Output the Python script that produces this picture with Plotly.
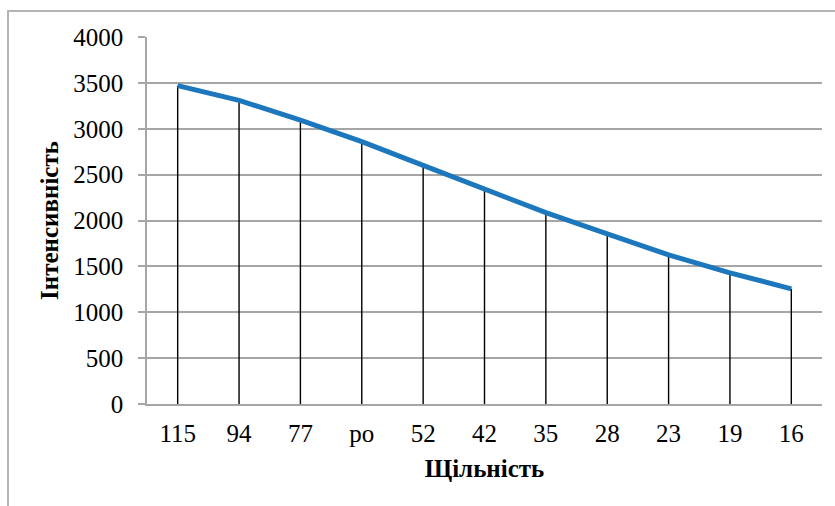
import plotly.graph_objects as go

# Density categories (x) and measured intensity (y)
density = ["115", "94", "77", "ро", "52", "42", "35", "28", "23", "19", "16"]
intensity = [3470, 3310, 3095, 2860, 2600, 2340, 2085, 1855, 1625, 1430, 1255]
y_ticks = [0, 500, 1000, 1500, 2000, 2500, 3000, 3500, 4000]

FONT = "Liberation Serif"
GRID = "#a6a6a6"

fig = go.Figure()

# Vertical drop lines from each point down to the axis
fig.add_trace(go.Scatter(
    x=density, y=intensity, mode="markers",
    marker=dict(size=1, color="rgba(0,0,0,0)"),
    error_y=dict(type="data", symmetric=False,
                 array=[0] * len(intensity), arrayminus=intensity,
                 color="black", thickness=1.4, width=0),
    hoverinfo="skip", showlegend=False,
))

# Main intensity curve
fig.add_trace(go.Scatter(
    x=density, y=intensity, mode="lines",
    line=dict(color="#1c77bd", width=5),
    showlegend=False,
))

fig.update_layout(
    width=835, height=506,
    margin=dict(l=147, r=13, t=37, b=102),
    paper_bgcolor="white", plot_bgcolor="white",
    font=dict(family=FONT, size=25, color="black"),
    xaxis=dict(
        type="category", range=[-0.5, 10.5],
        showgrid=False, zeroline=False,
        showline=True, linecolor=GRID, linewidth=1.5,
        ticks="", ticklabelstandoff=6,
        tickfont=dict(family=FONT, size=25),
        title=dict(text="<b>Щільність</b>", standoff=14,
                   font=dict(family=FONT, size=25)),
        automargin=False,
    ),
    yaxis=dict(
        range=[0, 4000], tickvals=y_ticks,
        showgrid=True, gridcolor=GRID, gridwidth=1.5,
        zeroline=False,
        showline=True, linecolor=GRID, linewidth=1.5,
        ticks="outside", ticklen=7, tickcolor=GRID, tickwidth=1.5,
        ticklabelstandoff=10,
        tickfont=dict(family=FONT, size=25),
        title=dict(text="<b>Інтенсивність</b>", standoff=8,
                   font=dict(family=FONT, size=25)),
        automargin=False,
    ),
    shapes=[dict(
        type="rect", xref="paper", yref="paper",
        x0=(8 - 147) / 675, x1=(845 - 147) / 675,
        y0=(404 - 520) / 367, y1=(404 - 11) / 367,
        line=dict(color="#b4b4b4", width=2), layer="below",
    )],
)

fig.write_html("out.html")
